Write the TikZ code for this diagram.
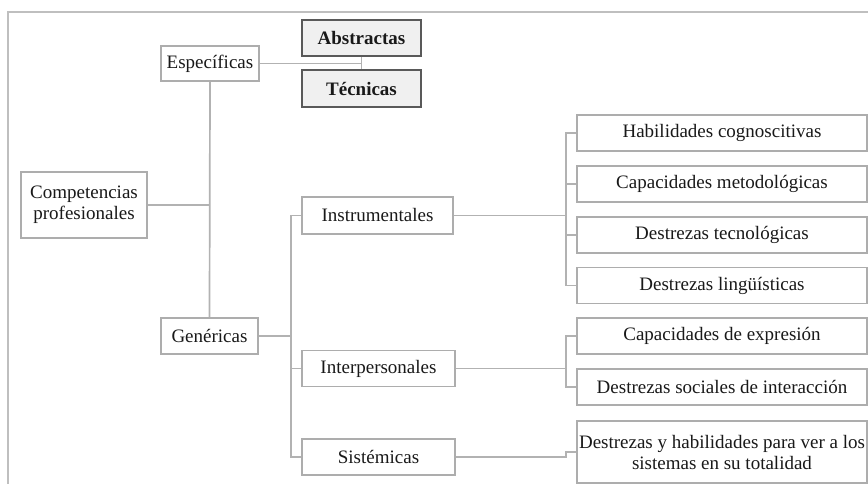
\documentclass[tikz,border=0pt]{standalone}
\usepackage{fontspec}
\setmainfont{Liberation Serif}
\begin{document}
\begin{tikzpicture}[x=1pt,y=-1pt,
  framec/.style={draw=black!25,line width=1.5pt},
  conn/.style={draw=black!30,line width=1.7pt},
  box/.style={draw=black!32,line width=1.6pt,fill=white,inner sep=0pt,
    text=black!90,font=\fontsize{19}{21}\selectfont,align=center},
  hbox/.style={draw=black!65,line width=1.9pt,fill=black!6,inner sep=0pt,
    text=black!90,font=\fontsize{19}{21}\selectfont\bfseries,align=center}]
\useasboundingbox (0,0) rectangle (868,484);
\draw[framec] (8,484) -- (8,12) -- (868,12);

\node[box,minimum width=98pt,minimum height=35pt] (esp) at (210,63.5) {Específicas};
\node[hbox,minimum width=119pt,minimum height=36pt] (abs) at (361.5,38) {Abstractas};
\node[hbox,minimum width=119pt,minimum height=37pt] (tec) at (361.5,88.5) {Técnicas};
\node[box,minimum width=126pt,minimum height=66pt] (comp) at (84,205) {Competencias\\profesionales};
\node[box,minimum width=97pt,minimum height=36pt] (gen) at (209.5,336) {Genéricas};
\node[box,minimum width=151pt,minimum height=37pt] (ins) at (377.5,215.5) {Instrumentales};
\node[box,minimum width=153pt,minimum height=36pt] (inter) at (378.5,368.5) {Interpersonales};
\node[box,minimum width=153pt,minimum height=36pt] (sis) at (378.5,457) {Sistémicas};

\node[box,minimum width=290pt,minimum height=36pt] (hab) at (722,133) {Habilidades cognoscitivas};
\node[box,minimum width=290pt,minimum height=36pt] (cap) at (722,184) {Capacidades metodológicas};
\node[box,minimum width=290pt,minimum height=36pt] (dtec) at (722,235) {Destrezas tecnológicas};
\node[box,minimum width=290pt,minimum height=36pt] (dling) at (722,285.5) {Destrezas lingüísticas};
\node[box,minimum width=290pt,minimum height=36pt] (cexp) at (722,336) {Capacidades de expresión};
\node[box,minimum width=290pt,minimum height=36pt] (dsoc) at (722,387) {Destrezas sociales de interacción};
\node[box,minimum width=290pt,minimum height=62pt] (dhab) at (722,452) {Destrezas y habilidades para ver a los\\sistemas en su totalidad};

\coordinate (gx) at (291,0);
\coordinate (ix) at (566,0);

\draw[conn] (esp.east) -- (esp.east -| abs.south);
\draw[conn] (abs.south) -- (tec.north);
\draw[conn] (comp.east) -- (comp.east -| esp.south);
\draw[conn] (esp.south) -- (gen.north);

\draw[conn] (gen.east) -- (gen.east -| gx);
\draw[conn] (ins.west) -- (gx |- ins.west) -- (gx |- sis.west) -- (sis.west);
\draw[conn] (gx |- inter.west) -- (inter.west);

\draw[conn] (ins.east) -- (ins.east -| ix);
\draw[conn] (hab.west) -- (ix |- hab.west) -- (ix |- dling.west) -- (dling.west);
\draw[conn] (ix |- cap.west) -- (cap.west);
\draw[conn] (ix |- dtec.west) -- (dtec.west);

\draw[conn] (inter.east) -- (inter.east -| ix);
\draw[conn] (cexp.west) -- (ix |- cexp.west) -- (ix |- dsoc.west) -- (dsoc.west);

\draw[conn] (sis.east) -- (sis.east -| ix) -- (ix |- dhab.west) -- (dhab.west);
\end{tikzpicture}
\end{document}
